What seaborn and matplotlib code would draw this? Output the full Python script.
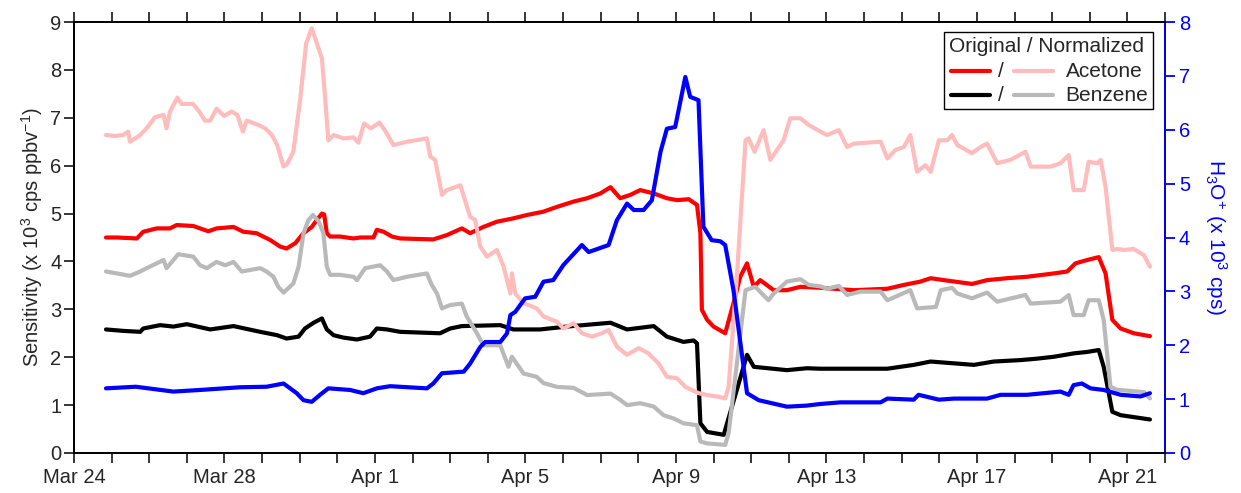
import numpy as np
import pandas as pd
import matplotlib
matplotlib.use("Agg")
import matplotlib.pyplot as plt
import seaborn as sns
from matplotlib.lines import Line2D
from matplotlib.patches import Rectangle

# ---------------- data (days after Mar 24, values) ----------------
acetone_norm_days = [0.85, 1.09, 1.31, 1.44, 1.49, 1.76, 1.93, 2.15, 2.38, 2.46, 2.55, 2.75, 2.86, 3.16, 3.33, 3.48, 3.62, 3.79, 3.99, 4.19, 4.34, 4.49, 4.59, 4.90, 5.08, 5.26, 5.40, 5.57, 5.67, 5.83, 6.01, 6.17, 6.32, 6.44, 6.59, 6.68, 6.76, 6.90, 7.16, 7.43, 7.56, 7.71, 7.89, 8.12, 8.27, 8.49, 8.85, 9.38, 9.47, 9.60, 9.78, 9.91, 10.27, 10.53, 10.66, 10.80, 10.98, 11.24, 11.42, 11.60, 11.64, 11.73, 11.95, 12.30, 12.48, 12.84, 13.01, 13.28, 13.50, 13.77, 14.03, 14.21, 14.43, 14.70, 15.01, 15.27, 15.54, 15.76, 16.03, 16.25, 16.60, 16.83, 17.09, 17.31, 17.40, 17.62, 17.85, 17.93, 18.09, 18.33, 18.51, 18.69, 18.86, 19.04, 19.31, 19.53, 19.84, 20.02, 20.33, 20.55, 20.73, 21.44, 21.62, 21.84, 22.06, 22.23, 22.41, 22.63, 22.77, 22.99, 23.21, 23.34, 23.48, 23.87, 24.10, 24.27, 24.54, 24.89, 25.29, 25.43, 25.96, 26.22, 26.44, 26.57, 26.84, 26.97, 27.20, 27.29, 27.42, 27.60, 27.73, 27.91, 28.17, 28.44, 28.60]
acetone_norm_vals = [6.64, 6.62, 6.64, 6.71, 6.50, 6.64, 6.78, 7.01, 7.06, 6.78, 7.13, 7.42, 7.29, 7.29, 7.13, 6.94, 6.94, 7.19, 7.04, 7.13, 7.06, 6.71, 6.94, 6.85, 6.78, 6.64, 6.43, 5.98, 6.04, 6.29, 7.37, 8.55, 8.87, 8.59, 8.24, 7.37, 6.53, 6.64, 6.57, 6.59, 6.48, 6.88, 6.78, 6.90, 6.73, 6.43, 6.50, 6.57, 6.19, 6.12, 5.39, 5.49, 5.59, 4.93, 4.87, 4.31, 4.10, 4.24, 3.89, 3.33, 3.75, 3.33, 3.13, 3.02, 2.85, 2.74, 2.60, 2.71, 2.50, 2.43, 2.50, 2.57, 2.22, 2.05, 2.19, 2.08, 1.87, 1.59, 1.56, 1.38, 1.25, 1.21, 1.18, 1.14, 1.38, 3.68, 6.53, 6.57, 6.29, 6.74, 6.12, 6.33, 6.53, 6.99, 6.99, 6.85, 6.71, 6.64, 6.74, 6.39, 6.46, 6.50, 6.15, 6.33, 6.39, 6.64, 5.87, 6.01, 5.87, 6.53, 6.53, 6.64, 6.43, 6.26, 6.39, 6.46, 6.05, 6.12, 6.29, 5.98, 5.98, 6.05, 6.22, 5.49, 5.49, 6.08, 6.05, 6.12, 5.56, 4.24, 4.26, 4.24, 4.26, 4.13, 3.89]

acetone_orig_days = [0.85, 1.14, 1.67, 1.84, 2.20, 2.55, 2.73, 3.17, 3.57, 3.79, 4.24, 4.50, 4.85, 5.21, 5.48, 5.65, 5.88, 6.10, 6.32, 6.45, 6.59, 6.65, 6.72, 6.81, 7.07, 7.43, 7.61, 7.96, 8.05, 8.23, 8.45, 8.67, 9.55, 9.91, 10.31, 10.53, 10.88, 11.24, 11.68, 12.04, 12.48, 12.84, 13.28, 13.64, 13.99, 14.26, 14.52, 14.79, 15.05, 15.41, 15.76, 16.03, 16.34, 16.56, 16.65, 16.69, 16.83, 17.00, 17.31, 17.53, 17.71, 17.89, 18.07, 18.24, 18.60, 18.95, 19.31, 19.84, 20.73, 21.62, 22.06, 22.50, 22.77, 23.12, 23.87, 24.27, 24.80, 25.33, 26.05, 26.40, 26.62, 26.93, 27.24, 27.42, 27.60, 27.82, 28.17, 28.60]
acetone_orig_vals = [4.50, 4.50, 4.48, 4.62, 4.69, 4.69, 4.76, 4.74, 4.63, 4.69, 4.72, 4.62, 4.59, 4.45, 4.31, 4.27, 4.38, 4.59, 4.72, 4.86, 5.00, 4.98, 4.59, 4.52, 4.52, 4.48, 4.50, 4.50, 4.66, 4.62, 4.52, 4.48, 4.46, 4.55, 4.69, 4.59, 4.72, 4.83, 4.90, 4.97, 5.04, 5.14, 5.25, 5.32, 5.42, 5.55, 5.32, 5.39, 5.49, 5.42, 5.32, 5.28, 5.30, 5.18, 4.59, 2.99, 2.78, 2.64, 2.50, 3.13, 3.68, 3.96, 3.47, 3.61, 3.40, 3.40, 3.47, 3.45, 3.40, 3.43, 3.51, 3.58, 3.65, 3.61, 3.53, 3.61, 3.65, 3.68, 3.75, 3.79, 3.96, 4.03, 4.09, 3.75, 2.78, 2.60, 2.50, 2.44]

benzene_norm_days = [0.85, 1.14, 1.49, 1.76, 1.93, 2.20, 2.38, 2.46, 2.77, 3.17, 3.35, 3.53, 3.79, 4.02, 4.24, 4.46, 4.95, 5.12, 5.30, 5.43, 5.57, 5.83, 5.97, 6.10, 6.23, 6.35, 6.50, 6.63, 6.72, 6.81, 7.07, 7.43, 7.52, 7.74, 8.14, 8.32, 8.49, 8.85, 9.38, 9.51, 9.65, 9.78, 10.00, 10.31, 10.44, 10.71, 10.88, 11.33, 11.55, 11.64, 11.95, 12.30, 12.48, 12.84, 13.28, 13.64, 14.26, 14.52, 14.70, 15.05, 15.41, 15.67, 15.94, 16.20, 16.56, 16.65, 16.83, 17.31, 17.40, 17.62, 17.85, 18.11, 18.46, 18.60, 18.95, 19.31, 19.53, 19.84, 20.02, 20.33, 20.55, 20.90, 21.44, 21.62, 22.23, 22.41, 22.91, 23.04, 23.34, 23.48, 23.87, 24.27, 24.54, 25.29, 25.43, 26.22, 26.44, 26.57, 26.84, 26.97, 27.24, 27.37, 27.55, 27.73, 28.17, 28.44, 28.60]
benzene_norm_vals = [3.79, 3.75, 3.70, 3.79, 3.86, 3.96, 4.03, 3.86, 4.15, 4.10, 3.92, 3.86, 3.99, 3.92, 3.99, 3.79, 3.86, 3.79, 3.68, 3.47, 3.35, 3.54, 3.89, 4.59, 4.86, 4.97, 4.84, 4.59, 3.89, 3.72, 3.72, 3.68, 3.61, 3.86, 3.92, 3.79, 3.61, 3.68, 3.75, 3.51, 3.33, 3.02, 3.09, 3.12, 2.85, 2.50, 2.25, 2.25, 1.80, 2.01, 1.66, 1.59, 1.46, 1.38, 1.36, 1.21, 1.24, 1.11, 1.00, 1.04, 0.97, 0.79, 0.72, 0.62, 0.58, 0.24, 0.20, 0.17, 0.41, 1.87, 3.40, 3.47, 3.19, 3.33, 3.58, 3.63, 3.51, 3.48, 3.43, 3.49, 3.30, 3.37, 3.37, 3.19, 3.40, 3.02, 3.05, 3.40, 3.45, 3.33, 3.23, 3.35, 3.16, 3.30, 3.12, 3.16, 3.30, 2.88, 2.88, 3.19, 3.19, 2.78, 1.38, 1.32, 1.29, 1.27, 1.14]

benzene_orig_days = [0.85, 1.31, 1.76, 1.84, 2.29, 2.64, 3.00, 3.62, 4.24, 4.95, 5.40, 5.65, 5.97, 6.14, 6.37, 6.59, 6.72, 6.90, 7.16, 7.52, 7.87, 8.05, 8.32, 8.67, 9.73, 10.00, 10.31, 11.33, 11.68, 12.39, 13.10, 14.26, 14.70, 15.41, 15.76, 16.20, 16.47, 16.56, 16.65, 16.83, 17.27, 17.62, 17.89, 18.07, 18.95, 19.48, 19.84, 21.62, 22.32, 22.77, 23.92, 24.45, 25.16, 25.60, 26.05, 26.57, 26.93, 27.24, 27.37, 27.60, 27.82, 28.60]
benzene_orig_vals = [2.58, 2.55, 2.53, 2.60, 2.67, 2.64, 2.69, 2.58, 2.65, 2.53, 2.46, 2.39, 2.43, 2.60, 2.72, 2.81, 2.58, 2.46, 2.41, 2.37, 2.43, 2.60, 2.58, 2.53, 2.50, 2.60, 2.65, 2.67, 2.58, 2.58, 2.64, 2.72, 2.58, 2.65, 2.43, 2.32, 2.35, 2.29, 0.62, 0.44, 0.38, 1.32, 2.05, 1.80, 1.73, 1.77, 1.76, 1.76, 1.84, 1.91, 1.84, 1.91, 1.94, 1.97, 2.01, 2.08, 2.11, 2.15, 1.80, 0.86, 0.79, 0.70]

h3o_days = [0.85, 1.64, 2.64, 3.35, 4.41, 5.12, 5.57, 5.92, 6.10, 6.32, 6.54, 6.76, 7.34, 7.69, 8.05, 8.40, 9.38, 9.55, 9.78, 10.36, 10.53, 10.80, 10.93, 11.33, 11.51, 11.60, 11.73, 11.99, 12.26, 12.48, 12.74, 13.01, 13.50, 13.68, 14.21, 14.43, 14.70, 14.88, 15.14, 15.36, 15.59, 15.76, 15.98, 16.25, 16.38, 16.60, 16.73, 16.95, 17.18, 17.31, 17.53, 17.75, 17.89, 18.20, 18.95, 19.48, 19.84, 20.37, 21.44, 21.62, 22.32, 22.45, 22.99, 23.39, 24.27, 24.63, 25.33, 26.22, 26.44, 26.57, 26.79, 27.02, 27.37, 27.82, 28.35, 28.60]
h3o_vals = [1.20, 1.23, 1.14, 1.17, 1.22, 1.23, 1.29, 1.11, 0.98, 0.95, 1.08, 1.20, 1.17, 1.11, 1.20, 1.24, 1.20, 1.29, 1.48, 1.51, 1.66, 1.97, 2.06, 2.06, 2.22, 2.56, 2.62, 2.87, 2.90, 3.18, 3.21, 3.49, 3.86, 3.73, 3.86, 4.32, 4.63, 4.51, 4.51, 4.69, 5.59, 6.02, 6.05, 6.98, 6.61, 6.55, 4.20, 3.95, 3.93, 3.86, 3.02, 1.85, 1.11, 0.98, 0.86, 0.88, 0.91, 0.94, 0.94, 1.01, 0.99, 1.08, 0.99, 1.01, 1.01, 1.08, 1.08, 1.14, 1.08, 1.26, 1.29, 1.20, 1.17, 1.08, 1.05, 1.11]

start_date = "2019-03-24"
tick_labels = ["Mar 24", "Mar 28", "Apr 1", "Apr 5", "Apr 9", "Apr 13", "Apr 17", "Apr 21"]
compounds = ["Acetone", "Benzene"]

# ---------------- style ----------------
sns.set_style("ticks")
plt.rcParams["font.family"] = ["Liberation Sans", "DejaVu Sans"]
plt.rcParams["mathtext.fontset"] = "custom"
plt.rcParams["mathtext.rm"] = "Liberation Sans"
plt.rcParams["mathtext.it"] = "Liberation Sans:italic"
plt.rcParams["mathtext.bf"] = "Liberation Sans:bold"

base = pd.Timestamp(start_date)


def frame(days, vals):
    return pd.DataFrame({"date": base + pd.to_timedelta(np.asarray(days), unit="D"),
                         "value": vals})


fig = plt.figure(figsize=(12.41, 4.93), dpi=100)
ax = fig.add_axes([74 / 1241, 40 / 493, 1091 / 1241, 431 / 493])
ax2 = ax.twinx()

LW = 3.0
c_red, c_pink, c_black, c_gray, c_blue = "#ff0000", "#ffbcbc", "#000000", "#b9b9b9", "#0000ff"

sns.lineplot(data=frame(acetone_orig_days, acetone_orig_vals), x="date", y="value",
             ax=ax, color=c_red, lw=LW, estimator=None, sort=False)
sns.lineplot(data=frame(benzene_orig_days, benzene_orig_vals), x="date", y="value",
             ax=ax, color=c_black, lw=LW, estimator=None, sort=False)
sns.lineplot(data=frame(acetone_norm_days, acetone_norm_vals), x="date", y="value",
             ax=ax, color=c_pink, lw=LW, estimator=None, sort=False)
sns.lineplot(data=frame(benzene_norm_days, benzene_norm_vals), x="date", y="value",
             ax=ax, color=c_gray, lw=LW, estimator=None, sort=False)
sns.lineplot(data=frame(h3o_days, h3o_vals), x="date", y="value",
             ax=ax2, color=c_blue, lw=LW, estimator=None, sort=False)

# ---------------- axes ----------------
ax.set_xlim(base, base + pd.Timedelta(days=29))
ax.set_ylim(0, 9)
ax2.set_ylim(0, 8)

major = pd.date_range(base, periods=len(tick_labels), freq="4D")
minor = pd.date_range(base, base + pd.Timedelta(days=29), freq="1D")
ax.set_xticks(minor, minor=True)
ax.set_xticks(major)
ax.set_xticklabels(tick_labels)
ax.set_yticks(range(0, 10))
ax2.set_yticks(range(0, 9))

FS = 14.5
ax.tick_params(axis="x", which="both", direction="out", top=True, length=7, width=1.3,
               labelsize=FS, pad=4)
ax.tick_params(axis="y", which="both", direction="out", length=7, width=1.3,
               labelsize=FS, pad=2)
ax2.tick_params(axis="y", direction="out", length=7, width=1.3, labelsize=FS,
                colors=c_blue, pad=3)

for sp in ax.spines.values():
    sp.set_linewidth(1.3)
    sp.set_color("black")
for name, sp in ax2.spines.items():
    sp.set_linewidth(1.3)
    sp.set_color(c_blue if name == "right" else "black")

ax.set_xlabel("")
ax.set_ylabel(r"Sensitivity (x 10$^{3}$ cps ppbv$^{-1}$)", fontsize=FS, labelpad=4)
ax2.set_ylabel(r"H$_3$O$^{+}$ (x 10$^{3}$ cps)", fontsize=15, color=c_blue,
               rotation=270, labelpad=28)

# ---------------- legend (manual) ----------------
tr = ax.transAxes
ax.add_patch(Rectangle((0.797, 0.798), 0.192, 0.179, transform=tr, fill=True,
                       facecolor="white", edgecolor="black", lw=1.0, zorder=10))
ax.text(0.891, 0.942, "Original / Normalized", transform=tr, ha="center", va="center",
        fontsize=15, zorder=11)
rows = [(0.886, c_red, c_pink, compounds[0]), (0.830, c_black, c_gray, compounds[1])]
for y, c1, c2, lab in rows:
    ax.add_line(Line2D([0.804, 0.840], [y, y], transform=tr, color=c1, lw=LW, zorder=11))
    ax.text(0.850, y, "/", transform=tr, ha="center", va="center", fontsize=15, zorder=11)
    ax.add_line(Line2D([0.862, 0.897], [y, y], transform=tr, color=c2, lw=LW, zorder=11))
    ax.text(0.909, y, lab, transform=tr, ha="left", va="center", fontsize=15, zorder=11)

ax2.set_zorder(ax.get_zorder() + 1)
ax.set_zorder(ax2.get_zorder() - 1)

fig.savefig("out.png", dpi=100)
